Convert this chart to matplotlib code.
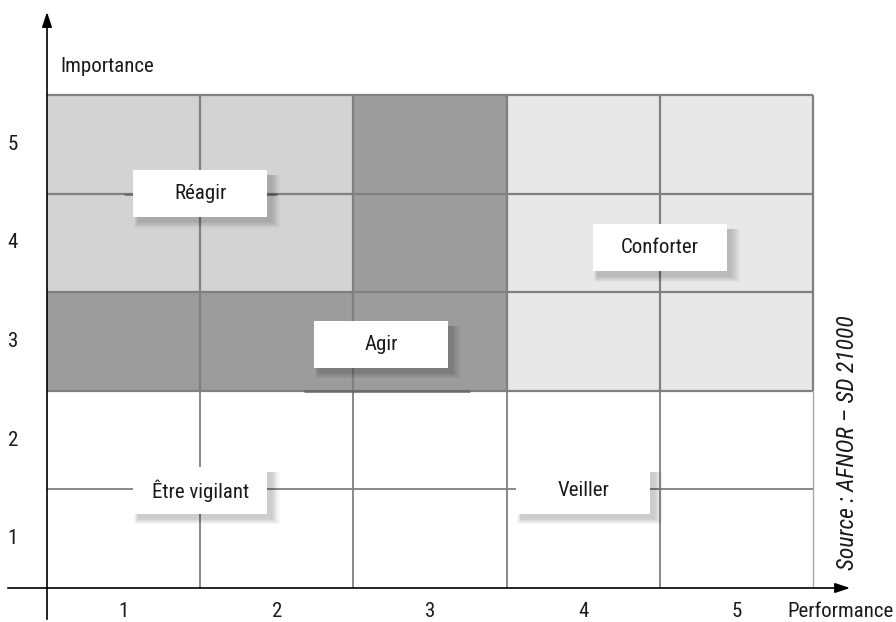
import matplotlib.pyplot as plt
from matplotlib.patches import Rectangle
from matplotlib import font_manager

# police étroite si disponible
installed = set(f.name for f in font_manager.fontManager.ttflist)
narrow = [f for f in ['Roboto Condensed', 'Archivo Narrow', 'PT Sans Narrow', 'Liberation Sans Narrow',
                      'Arial Narrow', 'Open Sans Condensed', 'Pragati Narrow'] if f in installed]
plt.rcParams['font.family'] = narrow[:1] + ['Liberation Sans', 'DejaVu Sans']
fsize = 15 if narrow else 13
fsrc = 17 if narrow else 14

# données
perf = [1, 2, 3, 4, 5]
importance = [1, 2, 3, 4, 5]
# zones par ligne (importance 1 -> 5), colonnes performance 1 -> 5
zones = [
    ['w', 'w', 'w', 'w', 'w'],
    ['w', 'w', 'w', 'w', 'w'],
    ['agir', 'agir', 'agir', 'conf', 'conf'],
    ['reag', 'reag', 'agir', 'conf', 'conf'],
    ['reag', 'reag', 'agir', 'conf', 'conf'],
]
zone_colors = {'w': 'white', 'agir': '#9c9c9c', 'reag': '#d3d3d3', 'conf': '#e8e8e8'}
labels = ['Réagir', 'Agir', 'Conforter', 'Être vigilant', 'Veiller']
label_x = [1.5, 2.68, 4.5, 1.5, 4.0]
label_y = [4.5, 2.97, 3.95, 1.49, 1.49]

fig = plt.figure(figsize=(8.96, 6.22), dpi=100)
ax = fig.add_axes([0, 0, 1, 1])
ax.set_xlim(0.1932, 6.0418)
ax.set_ylim(0.1552, 6.4635)
ax.axis('off')

# cellules
for j, row in enumerate(zones):
    for i, z in enumerate(row):
        ax.add_patch(Rectangle((perf[i] - 0.5, importance[j] - 0.5), 1, 1,
                               facecolor=zone_colors[z], edgecolor='none', zorder=1))

# grille
edges = [0.5, 1.5, 2.5, 3.5, 4.5, 5.5]
for e in edges[1:]:
    ax.vlines(e, 2.5, 5.5, color='#808080', lw=1.6, zorder=2)
    ax.vlines(e, 0.5, 2.5, color='#808080' if e < 5.5 else '#a8a8a8',
              lw=1.3 if e < 5.5 else 1.0, zorder=2)
for e in edges[1:]:
    ax.hlines(e, 0.5, 5.5, color='#808080', lw=1.6 if e > 2 else 1.3, zorder=2)
# traits d'ombre
ax.hlines(2.5, 2.18, 3.26, color='#6a6a6a', lw=1.8, zorder=2)
ax.hlines(4.5, 1.0, 2.0, color='#6a6a6a', lw=1.8, zorder=2)

# étiquettes des zones avec ombre douce
w, h = 0.875, 0.48
for lab, x, y in zip(labels, label_x, label_y):
    for k in range(10):
        off = 0.012 * k
        ax.add_patch(Rectangle((x - w / 2 + 0.03 - off * 0.2, y - h / 2 - 0.05 - off * 0.5),
                               w + off * 0.7, h + off * 0.5,
                               facecolor='black', alpha=0.018, edgecolor='none', zorder=3))
    ax.add_patch(Rectangle((x - w / 2, y - h / 2), w, h,
                           facecolor='white', edgecolor='none', zorder=4))
    ax.text(x, y, lab, ha='center', va='center', fontsize=fsize, color='#1a1a1a', zorder=5)

# axes avec flèches
ax.annotate('', xy=(5.76, 0.5), xytext=(0.226, 0.5),
            arrowprops=dict(arrowstyle='-|>,head_length=0.9,head_width=0.3', color='black', lw=1.2),
            zorder=6, annotation_clip=False)
ax.annotate('', xy=(0.5, 6.37), xytext=(0.5, 0.155),
            arrowprops=dict(arrowstyle='-|>,head_length=0.9,head_width=0.3', color='black', lw=1.2),
            zorder=6, annotation_clip=False)

for p in perf:
    ax.text(p, 0.257, str(p), ha='center', va='center', fontsize=fsize, color='#1a1a1a')
for v in importance:
    ax.text(0.278, v, str(v), ha='center', va='center', fontsize=fsize, color='#1a1a1a')

ax.text(0.585, 5.784, 'Importance', ha='left', va='center', fontsize=fsize, color='#1a1a1a')
ax.text(5.33, 0.257, 'Performance', ha='left', va='center', fontsize=fsize, color='#1a1a1a')
ax.text(5.728, 1.97, 'Source : AFNOR – SD 21000', ha='center', va='center', rotation=90,
        fontsize=fsrc, style='italic', color='#1a1a1a')

fig.savefig('out.png', dpi=100)
